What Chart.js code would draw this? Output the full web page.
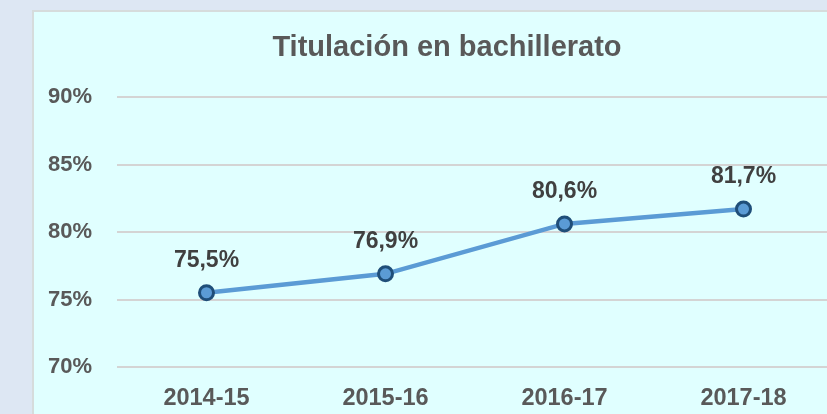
<!DOCTYPE html>
<html>
<head>
<meta charset="utf-8">
<script src="https://cdn.jsdelivr.net/npm/chart.js@4"></script>
<style>
  html, body { margin: 0; padding: 0; }
  body { width: 827px; height: 414px; overflow: hidden; background: #dde7f3; position: relative; }
  #panel { position: absolute; left: 32px; top: 10px; width: 830px; height: 430px;
           background: #e0ffff; border: 2px solid #d6dcdc; overflow: hidden; }
  #chart { position: absolute; left: 0; top: 0; }
</style>
</head>
<body>
<div id="panel"><canvas id="chart" width="826" height="420"></canvas></div>
<script>
var categories = ["2014-15", "2015-16", "2016-17", "2017-18"];
var titulacion = [75.5, 76.9, 80.6, 81.7];
var yTicks = [70, 75, 80, 85, 90];
var titulo = 'Titulación en bachillerato';

var textColor = '#595959';
var fontFamily = '"Liberation Sans", Arial, sans-serif';

// título centrado en todo el panel (como en Excel), no sobre el área del gráfico
var panelTitle = {
  id: 'panelTitle',
  afterDraw: function (chart) {
    var ctx = chart.ctx;
    ctx.save();
    ctx.font = 'bold 29px ' + fontFamily;
    ctx.fillStyle = textColor;
    ctx.textAlign = 'center';
    ctx.textBaseline = 'middle';
    ctx.fillText(titulo, chart.width / 2, 36);
    ctx.restore();
  }
};

// etiquetas de datos encima de cada punto
var pointLabels = {
  id: 'pointLabels',
  afterDatasetsDraw: function (chart) {
    var ctx = chart.ctx;
    var meta = chart.getDatasetMeta(0);
    ctx.save();
    ctx.font = 'bold 23px ' + fontFamily;
    ctx.fillStyle = '#404040';
    ctx.textAlign = 'center';
    ctx.textBaseline = 'middle';
    meta.data.forEach(function (pt, i) {
      var txt = titulacion[i].toFixed(1).replace('.', ',') + '%';
      ctx.fillText(txt, pt.x, pt.y - 32);
    });
    ctx.restore();
  }
};

var chart = new Chart(document.getElementById('chart').getContext('2d'), {
  type: 'line',
  data: {
    labels: categories,
    datasets: [{
      label: 'Titulación',
      data: titulacion,
      borderColor: '#5b9bd5',
      borderWidth: 4.5,
      backgroundColor: '#5b9bd5',
      pointBackgroundColor: '#5b9bd5',
      pointBorderColor: '#1f4e79',
      pointBorderWidth: 3,
      pointRadius: 7,
      tension: 0
    }]
  },
  options: {
    responsive: false,
    animation: false,
    layout: { padding: { left: 0, right: 27, top: 85, bottom: 0 } },
    plugins: {
      legend: { display: false },
      tooltip: { enabled: false },
      title: { display: false }
    },
    scales: {
      x: {
        offset: true,
        grid: { display: false, drawTicks: false },
        border: { display: false },
        ticks: {
          color: textColor,
          padding: 17,
          font: { family: fontFamily, size: 23.5, weight: 'bold' }
        },
        afterFit: function (scale) { scale.height = 65; }
      },
      y: {
        min: yTicks[0],
        max: yTicks[yTicks.length - 1],
        grid: { color: '#d4d4d4', lineWidth: 2, drawTicks: false },
        border: { display: false },
        ticks: {
          stepSize: 5,
          color: textColor,
          padding: 25,
          font: { family: fontFamily, size: 22, weight: 'bold' },
          callback: function (v) { return v + '%'; }
        },
        afterFit: function (scale) { scale.width = 83; }
      }
    }
  },
  plugins: [pointLabels, panelTitle]
});
</script>
</body>
</html>
